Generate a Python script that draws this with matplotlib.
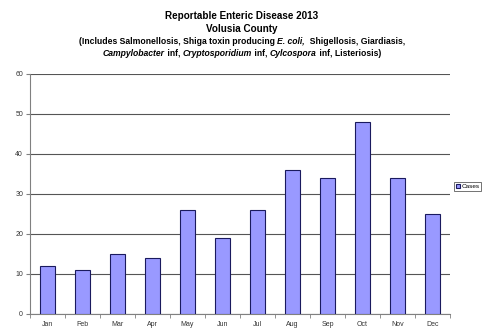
import matplotlib
matplotlib.use("Agg")
import matplotlib.pyplot as plt

months = ["Jan", "Feb", "Mar", "Apr", "May", "Jun", "Jul", "Aug", "Sep", "Oct", "Nov", "Dec"]
cases = [12, 11, 15, 14, 26, 19, 26, 36, 34, 48, 34, 25]
yticks = [0, 10, 20, 30, 40, 50, 60]

plt.rcParams['font.family'] = ['Liberation Sans', 'DejaVu Sans']

fig = plt.figure(figsize=(4.84, 3.28), dpi=100)
W, H = 484, 328
ax = fig.add_axes([30 / W, 1 - 314 / H, (450 - 30) / W, (314 - 74) / H])

x = list(range(len(months)))
bars = ax.bar(x, cases, width=0.42, color="#9999FF", edgecolor="#1a1a5e", linewidth=0.8, label="Cases", zorder=3)
ax.set_xlim(-0.5, len(months) - 0.5)
ax.set_ylim(0, 60)
ax.set_yticks(yticks)
ax.set_yticklabels([str(v) for v in yticks], fontsize=5, color="#333333")
ax.set_xticks(x)
ax.set_xticklabels(months, fontsize=5, color="#333333")
ax.set_xticks([i + 0.5 for i in range(-1, len(months))], minor=True)
ax.tick_params(axis='x', which='major', length=0, pad=5)
ax.tick_params(axis='x', which='minor', length=3, color="#808080", direction='out')
ax.tick_params(axis='y', length=3, color="#808080", pad=2)
ax.yaxis.grid(True, color="#555555", linewidth=0.8, zorder=0)
ax.spines["top"].set_visible(False)
ax.spines["right"].set_visible(False)
ax.spines["left"].set_color("#808080")
ax.spines["bottom"].set_color("#808080")

leg = fig.legend(handles=[bars], labels=["Cases"], loc="upper left", bbox_to_anchor=(454 / W, 1 - 182 / H),
                 fontsize=4.6, frameon=True, fancybox=False, edgecolor="#333333", handlelength=0.7,
                 handleheight=0.7, borderpad=0.25, handletextpad=0.25, borderaxespad=0)
leg.get_frame().set_linewidth(0.6)

fig.text(0.5, 1 - 16 / H, "Reportable Enteric Disease 2013", ha="center", va="center", fontsize=7.1, fontweight="bold")
fig.text(0.5, 1 - 29 / H, "Volusia County", ha="center", va="center", fontsize=7.1, fontweight="bold")

def mixed_line(parts, y, size=6.2):
    renderer = fig.canvas.get_renderer()
    texts = []
    total = 0
    for s, it in parts:
        t = fig.text(0, 1 - y / H, s, ha="left", va="center", fontsize=size, fontweight="bold",
                     style="italic" if it else "normal")
        w = t.get_window_extent(renderer).width
        texts.append((t, w))
        total += w
    cur = (W - total) / 2
    for t, w in texts:
        t.set_x(cur / W)
        cur += w

mixed_line([("(Includes Salmonellosis, Shiga toxin producing ", False), ("E. coli,", True),
            ("  Shigellosis, Giardiasis,", False)], 41)
mixed_line([("Campylobacter", True), (" inf, ", False), ("Cryptosporidium", True), (" inf, ", False),
            ("Cylcospora", True), (" inf, Listeriosis)", False)], 53)

fig.savefig("out.png", dpi=100)
